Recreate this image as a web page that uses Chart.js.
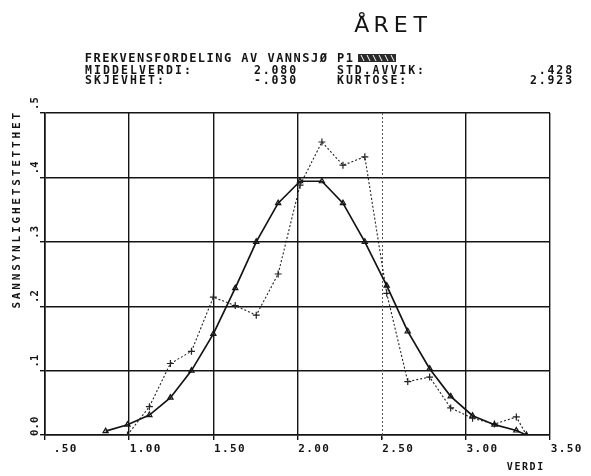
<!DOCTYPE html>
<html><head><meta charset="utf-8">
<script src="https://cdn.jsdelivr.net/npm/chart.js@4"></script>
<style>html,body{margin:0;padding:0;background:#fff}#wrap{width:591px;height:476px;position:relative}</style>
</head><body><div id="wrap"><canvas id="c" width="591" height="476"></canvas></div>
<script>
// ---- data ----
const xValues      = [0.86,0.99,1.12,1.245,1.37,1.50,1.63,1.755,1.885,2.015,2.145,2.27,2.40,2.53,2.655,2.785,2.91,3.04,3.17,3.30,3.36];
const normalCurve  = [0.006,0.016,0.031,0.058,0.100,0.157,0.228,0.300,0.360,0.394,0.394,0.360,0.300,0.232,0.161,0.103,0.060,0.030,0.016,0.007,0.000];
const observed     = [null,0.000,0.044,0.111,0.130,0.214,0.201,0.186,0.250,0.388,0.455,0.419,0.432,0.220,0.083,0.090,0.042,0.026,0.017,0.028,0.000];
const xTickLabels  = ['.50','1.00','1.50','2.00','2.50','3.00','3.50'];
const yTickLabels  = ['0.0','.1','.2','.3','.4','.5'];
const handNote     = 'ÅRET';
const titleText    = 'FREKVENSFORDELING AV VANNSJØ P1';
const statNames    = ['MIDDELVERDI:','SKJEVHET:','STD.AVVIK:','KURTOSE:'];
const statValues   = ['2.080','-.030','.428','2.923'];
const xTitle       = 'VERDI';
const yTitle       = 'SANNSYNLIGHETSTETTHET';

const xTickValues = xTickLabels.map(parseFloat);
const yTickValues = yTickLabels.map(parseFloat);
const INK = '#141414';
const MONO = '"DejaVu Sans Mono"';

function mono(ctx, s, x, y, pitch, align) {
  const chars = Array.from(s);
  if (align === 'right') x -= chars.length * pitch;
  ctx.textAlign = 'center';
  chars.forEach((ch, i) => ctx.fillText(ch, x + i * pitch + pitch / 2, y));
}

const textPlugin = {
  id: 'texts',
  beforeDatasetsDraw(chart) {
    const ctx = chart.ctx, xs = chart.scales.x, ys = chart.scales.y;
    // light dashed grid line at 2.50
    ctx.save();
    ctx.strokeStyle = '#555'; ctx.lineWidth = 1; ctx.setLineDash([2, 2]);
    const gx = Math.round(xs.getPixelForValue(2.5)) + 0.5;
    ctx.beginPath(); ctx.moveTo(gx, ys.top); ctx.lineTo(gx, ys.bottom + 5); ctx.stroke();
    ctx.restore();
  },
  afterDraw(chart) {
    const ctx = chart.ctx, xs = chart.scales.x, ys = chart.scales.y;
    ctx.save();
    ctx.fillStyle = INK;
    // handwritten note
    ctx.font = '22px "DejaVu Sans"';
    ctx.textBaseline = 'alphabetic';
    mono(ctx, handNote, 352, 32, 19.5);
    ctx.textBaseline = 'middle';
    // title
    ctx.font = 'bold 12px ' + MONO;
    mono(ctx, titleText, 84, 58.5, 8.7);
    // censored scribble
    ctx.fillStyle = '#2a2a2a';
    ctx.fillRect(358, 54, 38, 8);
    ctx.strokeStyle = '#fff'; ctx.lineWidth = 1;
    ctx.beginPath();
    for (let k = 0; k < 6; k++) { ctx.moveTo(361 + k * 6, 55); ctx.lineTo(364 + k * 6, 61); }
    ctx.stroke();
    ctx.fillStyle = INK;
    // statistics
    ctx.font = 'bold 11.5px ' + MONO;
    mono(ctx, statNames[0], 84, 71, 9);
    mono(ctx, statNames[1], 84, 81.5, 9);
    mono(ctx, statValues[0], 297, 71, 8.8, 'right');
    mono(ctx, statValues[1], 297, 81.5, 8.8, 'right');
    mono(ctx, statNames[2], 336, 71, 8.9);
    mono(ctx, statNames[3], 336, 81.5, 8.9);
    mono(ctx, statValues[2], 573, 71, 8.8, 'right');
    mono(ctx, statValues[3], 573, 81.5, 8.8, 'right');
    // x tick labels
    ctx.font = 'bold 11px ' + MONO;
    xTickLabels.forEach((lab, i) => {
      const px = xs.getPixelForValue(xTickValues[i]);
      mono(ctx, lab, px + 32, 449, 8, 'right');
    });
    // x title
    ctx.font = 'bold 10px ' + MONO;
    mono(ctx, xTitle, 506, 467.5, 7.6);
    // y tick labels (rotated)
    ctx.font = 'bold 10.5px ' + MONO;
    yTickLabels.forEach((lab, i) => {
      const py = ys.getPixelForValue(yTickValues[i]);
      ctx.save();
      ctx.translate(35, py);
      ctx.rotate(-Math.PI / 2);
      const start = lab.length > 2 ? -1 : 3;
      mono(ctx, lab, start, 0, 6.5);
      ctx.restore();
    });
    // y title (rotated)
    ctx.save();
    ctx.translate(17.5, 310);
    ctx.rotate(-Math.PI / 2);
    ctx.font = 'bold 11px ' + MONO;
    mono(ctx, yTitle, 0, 0, 9.45);
    ctx.restore();
    ctx.restore();
  }
};

new Chart(document.getElementById('c'), {
  type: 'line',
  data: {
    datasets: [
      {
        label: 'normal',
        data: xValues.map((x, i) => ({ x, y: normalCurve[i] })),
        borderColor: INK, borderWidth: 1.7, tension: 0,
        pointStyle: 'triangle', pointRadius: 3, pointBorderWidth: 1.2,
        pointBackgroundColor: 'rgba(0,0,0,0)', pointBorderColor: INK
      },
      {
        label: 'observed',
        data: xValues.map((x, i) => ({ x, y: observed[i] })).filter(p => p.y !== null),
        borderColor: '#222', borderWidth: 1.1, borderDash: [2, 2], tension: 0,
        pointStyle: 'cross', pointRadius: 3.5, pointBorderWidth: 1.2,
        pointBackgroundColor: 'rgba(0,0,0,0)', pointBorderColor: '#222'
      }
    ]
  },
  options: {
    responsive: false, animation: false,
    layout: { padding: { left: 40, right: 41, top: 113, bottom: 36 } },
    plugins: { legend: { display: false }, tooltip: { enabled: false } },
    scales: {
      x: {
        type: 'linear', min: 0.5, max: 3.5,
        afterBuildTicks: s => { s.ticks = xTickValues.map(v => ({ value: v })); },
        ticks: { display: false },
        grid: {
          color: c => (c.tick && c.tick.value === 2.5) ? 'rgba(0,0,0,0)' : INK,
          lineWidth: 1.4, tickLength: 5, drawTicks: true, tickColor: INK
        },
        border: { display: true, color: INK, width: 1.6 }
      },
      y: {
        type: 'linear', min: 0, max: 0.5,
        afterBuildTicks: s => { s.ticks = yTickValues.map(v => ({ value: v })); },
        ticks: { display: false },
        grid: { color: INK, lineWidth: 1.4, tickLength: 5, drawTicks: true },
        border: { display: true, color: INK, width: 1.6 }
      }
    }
  },
  plugins: [textPlugin]
});
</script>
</body></html>
